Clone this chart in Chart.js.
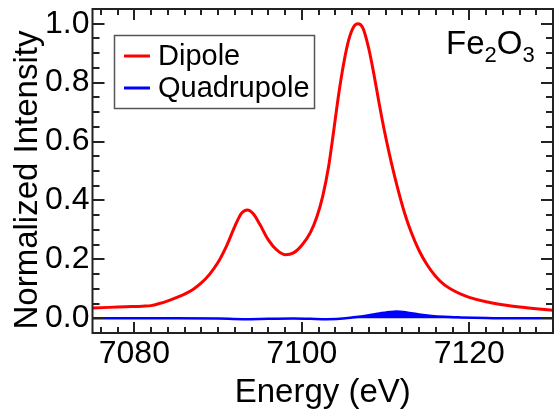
<!DOCTYPE html>
<html>
<head>
<meta charset="utf-8">
<script src="https://cdn.jsdelivr.net/npm/chart.js@4.4.1/dist/chart.umd.min.js"></script>
<style>
  html, body { margin: 0; padding: 0; background: #fff; }
</style>
</head>
<body>
<canvas id="myChart" width="554" height="410"></canvas>
<script>
// dipole (red) spectrum
const dipoleEnergy = [7075, 7077, 7079, 7081, 7082, 7083, 7084, 7085, 7086, 7087, 7088, 7089, 7090, 7091, 7092, 7092.8, 7093.5, 7094.2, 7095, 7096, 7097, 7098, 7099, 7100, 7101, 7101.8, 7102.5, 7103.2, 7103.8, 7104.4, 7105, 7105.6, 7106.2, 7106.7, 7107.3, 7108, 7108.6, 7109.2, 7109.8, 7110.4, 7111, 7111.6, 7112.3, 7113, 7114, 7115, 7116, 7117, 7118, 7119, 7120, 7122, 7124, 7126, 7128, 7130];
const dipoleIntensity = [0.035, 0.037, 0.039, 0.041, 0.043, 0.050, 0.059, 0.070, 0.082, 0.098, 0.120, 0.150, 0.190, 0.245, 0.312, 0.357, 0.368, 0.355, 0.318, 0.266, 0.232, 0.216, 0.222, 0.248, 0.290, 0.345, 0.415, 0.515, 0.635, 0.760, 0.865, 0.945, 0.990, 1.000, 0.985, 0.915, 0.830, 0.735, 0.645, 0.565, 0.492, 0.425, 0.355, 0.297, 0.230, 0.180, 0.142, 0.114, 0.096, 0.082, 0.071, 0.056, 0.046, 0.038, 0.032, 0.027];

// quadrupole (blue) spectrum
const quadEnergy = [7075, 7080, 7085, 7090, 7093, 7096, 7099, 7101, 7103, 7104.5, 7106, 7107.5, 7109, 7110.5, 7111.3, 7112.5, 7114, 7115.5, 7117, 7119, 7122, 7125, 7130];
const quadIntensity = [0.000, 0.000, 0.000, -0.001, -0.003, -0.002, -0.001, -0.002, -0.003, -0.002, 0.003, 0.008, 0.015, 0.021, 0.023, 0.020, 0.013, 0.008, 0.005, 0.003, 0.001, 0.000, 0.000];

const xTicks = [7080, 7100, 7120];
const yTicks = [0, 0.2, 0.4, 0.6, 0.8, 1.0];

const FONT = "'Liberation Sans', Arial, sans-serif";

const toPoints = (xs, ys) => xs.map((v, i) => ({ x: v, y: ys[i] }));

// frame, inward ticks, axis titles, legend and label
const decorations = {
  id: "decorations",
  afterDraw: (chart) => {
    const { ctx, chartArea: a, scales } = chart;
    const x = scales.x;
    const y = scales.y;
    ctx.save();
    ctx.strokeStyle = "#222";
    ctx.lineWidth = 2;

    // ticks on all four sides
    ctx.beginPath();
    for (let e = 7076; e <= 7130; e += 2) {
      const px = Math.round(x.getPixelForValue(e));
      const len = e % 20 === 0 ? 11 : 6;
      ctx.moveTo(px, a.bottom);
      ctx.lineTo(px, a.bottom - len);
      ctx.moveTo(px, a.top);
      ctx.lineTo(px, a.top + len);
    }
    for (let k = -1; k <= 21; k++) {
      const py = Math.round(y.getPixelForValue(k * 0.05));
      const len = k % 4 === 0 ? 12 : 7;
      ctx.moveTo(a.left, py);
      ctx.lineTo(a.left + len, py);
      ctx.moveTo(a.right, py);
      ctx.lineTo(a.right - len, py);
    }
    ctx.stroke();
    ctx.strokeRect(a.left, a.top, a.right - a.left, a.bottom - a.top);

    // axis titles
    ctx.fillStyle = "#000";
    ctx.font = "33px " + FONT;
    ctx.textAlign = "center";
    ctx.textBaseline = "alphabetic";
    ctx.fillText("Energy (eV)", (a.left + a.right) / 2, 402);
    ctx.save();
    ctx.translate(37, 180);
    ctx.rotate(-Math.PI / 2);
    ctx.fillText("Normalized Intensity", 0, 0);
    ctx.restore();

    // legend
    ctx.strokeStyle = "#555";
    ctx.lineWidth = 1.5;
    ctx.strokeRect(114.5, 35.5, 200, 73);
    ctx.lineWidth = 3;
    ctx.strokeStyle = "#ff0000";
    ctx.beginPath();
    ctx.moveTo(124, 56);
    ctx.lineTo(150, 56);
    ctx.stroke();
    ctx.strokeStyle = "#0000ff";
    ctx.beginPath();
    ctx.moveTo(124, 88);
    ctx.lineTo(150, 88);
    ctx.stroke();
    ctx.font = "29px " + FONT;
    ctx.textAlign = "left";
    ctx.fillText("Dipole", 158, 65);
    ctx.fillText("Quadrupole", 158, 97);

    // Fe2O3 label
    let cx = 446;
    const part = (txt, size, dy) => {
      ctx.font = size + "px " + FONT;
      ctx.fillText(txt, cx, 54 + dy);
      cx += ctx.measureText(txt).width;
    };
    part("Fe", 33, 0);
    part("2", 22, 8);
    part("O", 33, 0);
    part("3", 22, 8);
    ctx.restore();
  },
};

const data = {
  datasets: [
    {
      label: "Quadrupole",
      data: toPoints(quadEnergy, quadIntensity),
      borderColor: "#0000ff",
      backgroundColor: "#0000ff",
      borderWidth: 2.5,
      fill: "origin",
      pointRadius: 0,
      cubicInterpolationMode: "monotone",
    },
    {
      label: "Dipole",
      data: toPoints(dipoleEnergy, dipoleIntensity),
      borderColor: "#ff0000",
      borderWidth: 3,
      fill: false,
      pointRadius: 0,
      cubicInterpolationMode: "monotone",
    },
  ],
};

const config = {
  type: "line",
  data: data,
  options: {
    responsive: false,
    animation: false,
    layout: { autoPadding: false, padding: { top: 9, right: 1, left: 0, bottom: 0 } },
    plugins: {
      legend: { display: false },
      tooltip: { enabled: false },
    },
    scales: {
      x: {
        type: "linear",
        min: 7075,
        max: 7130,
        grid: { display: false, drawTicks: false },
        border: { display: false },
        ticks: {
          color: "#000",
          padding: 2,
          font: { family: FONT, size: 32 },
          callback: (v) => String(v),
        },
        afterBuildTicks: (axis) => {
          axis.ticks = xTicks.map((v) => ({ value: v }));
        },
        afterFit: (axis) => {
          axis.height = 77;
          axis.paddingLeft = 0;
          axis.paddingRight = 0;
        },
      },
      y: {
        min: -0.05,
        max: 1.05,
        grid: { display: false, drawTicks: false },
        border: { display: false },
        ticks: {
          color: "#000",
          padding: 3,
          font: { family: FONT, size: 32 },
          callback: (v) => v.toFixed(1),
        },
        afterBuildTicks: (axis) => {
          axis.ticks = yTicks.map((v) => ({ value: v }));
        },
        afterFit: (axis) => {
          axis.width = 92.5;
          axis.paddingTop = 0;
          axis.paddingBottom = 0;
        },
      },
    },
  },
  plugins: [decorations],
};

const myChart = new Chart(document.getElementById("myChart"), config);
</script>
</body>
</html>
